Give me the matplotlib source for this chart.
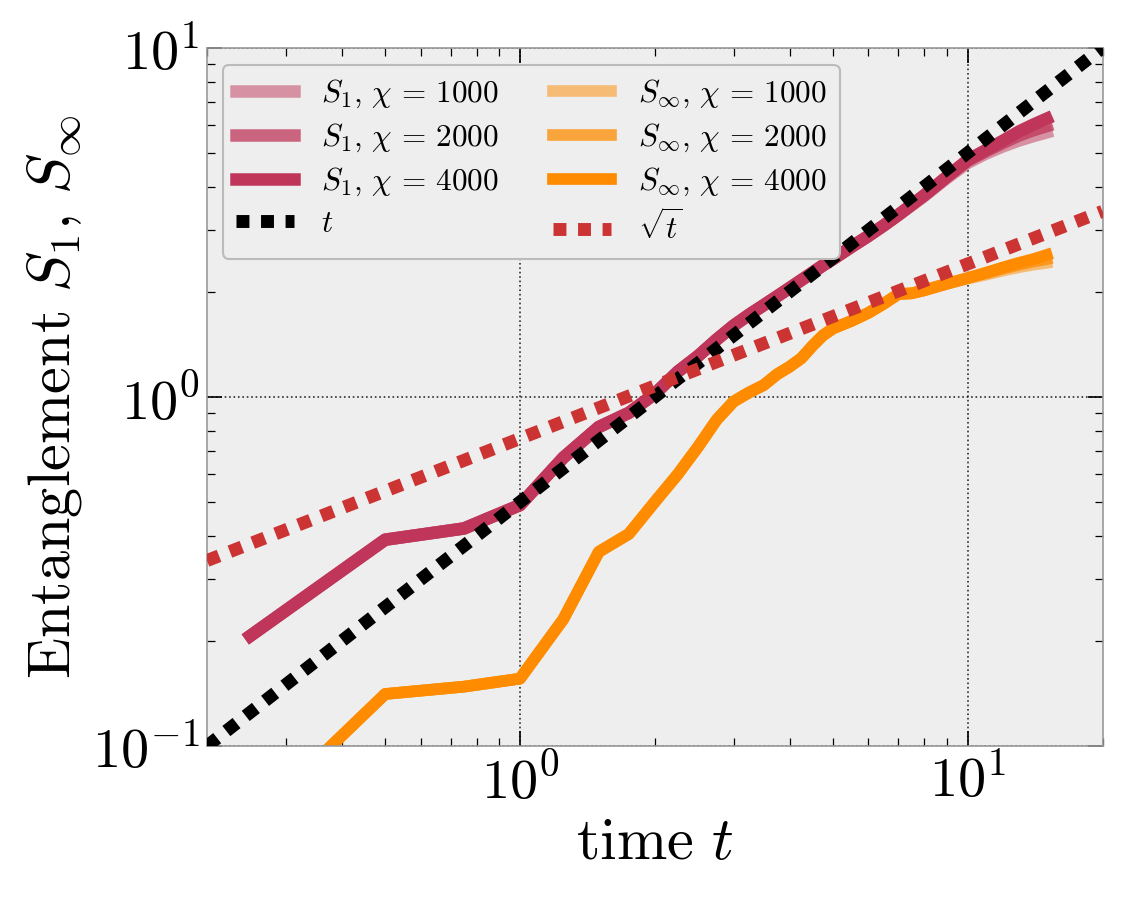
import numpy as np
import matplotlib
matplotlib.use("Agg")
import matplotlib.pyplot as plt
from matplotlib.ticker import FuncFormatter, NullFormatter, LogLocator

plt.rcParams['mathtext.fontset'] = 'cm'
plt.rcParams['font.family'] = 'serif'
plt.rcParams['font.serif'] = ['cmr10', 'DejaVu Serif']

# time grid and values
t = [0.25, 0.5, 0.75, 1.0, 1.25, 1.5, 1.75, 2.0, 2.25, 2.5, 2.75, 3.0, 3.25, 3.5,
     3.75, 4.0, 4.25, 4.5, 4.75, 5.0, 5.5, 6.0, 6.5, 7.0, 7.5, 8.0, 9.0, 10.0,
     11.0, 12.0, 13.0, 14.0, 15.0]

S1_4000 = [0.207, 0.39, 0.42, 0.49, 0.67, 0.82, 0.90, 1.02, 1.18, 1.31, 1.46, 1.60,
           1.72, 1.83, 1.94, 2.05, 2.16, 2.27, 2.38, 2.48, 2.69, 2.89, 3.10, 3.32,
           3.55, 3.78, 4.28, 4.77, 5.10, 5.42, 5.75, 6.02, 6.26]
S1_2000 = [0.207, 0.39, 0.42, 0.49, 0.67, 0.82, 0.90, 1.02, 1.18, 1.31, 1.46, 1.60,
           1.72, 1.83, 1.94, 2.05, 2.16, 2.27, 2.38, 2.48, 2.69, 2.89, 3.10, 3.32,
           3.55, 3.78, 4.27, 4.74, 5.06, 5.34, 5.60, 5.80, 5.96]
S1_1000 = [0.207, 0.39, 0.42, 0.49, 0.67, 0.82, 0.90, 1.02, 1.18, 1.31, 1.46, 1.60,
           1.72, 1.83, 1.94, 2.05, 2.16, 2.27, 2.38, 2.48, 2.69, 2.89, 3.10, 3.32,
           3.54, 3.76, 4.24, 4.68, 4.98, 5.22, 5.42, 5.58, 5.72]

Sinf_4000 = [0.06, 0.141, 0.148, 0.156, 0.231, 0.36, 0.405, 0.50, 0.60, 0.72, 0.86,
             0.97, 1.03, 1.08, 1.16, 1.22, 1.29, 1.40, 1.50, 1.57, 1.65, 1.74, 1.85,
             1.97, 1.98, 2.02, 2.11, 2.19, 2.27, 2.35, 2.42, 2.48, 2.55]
Sinf_2000 = [0.06, 0.141, 0.148, 0.156, 0.231, 0.36, 0.405, 0.50, 0.60, 0.72, 0.86,
             0.97, 1.03, 1.08, 1.16, 1.22, 1.29, 1.40, 1.50, 1.57, 1.65, 1.74, 1.85,
             1.97, 1.98, 2.02, 2.11, 2.19, 2.26, 2.33, 2.39, 2.44, 2.48]
Sinf_1000 = [0.06, 0.141, 0.148, 0.156, 0.231, 0.36, 0.405, 0.50, 0.60, 0.72, 0.86,
             0.97, 1.03, 1.08, 1.16, 1.22, 1.29, 1.40, 1.50, 1.57, 1.65, 1.74, 1.85,
             1.97, 1.98, 2.02, 2.11, 2.18, 2.24, 2.30, 2.35, 2.39, 2.42]

chis = [1000, 2000, 4000]
alphas = [0.5, 0.75, 1.0]

# reference lines
t_ref = np.array([0.2, 20.0])
lin_coef = 0.5
sqrt_coef = 0.76

c_s1 = '#c0365a'
c_sinf = '#ff8c00'
c_sqrt = '#cc3333'

fig = plt.figure(figsize=(7.5, 6), dpi=150)
ax = fig.add_axes([0.184, 0.171, 0.796, 0.776])
ax.set_facecolor('#eeeeee')

handles = []
for chi, a, ys in zip(chis, alphas, [S1_1000, S1_2000, S1_4000]):
    h, = ax.plot(t, ys, color=c_s1, alpha=a, lw=6.0,
                 label=r'$S_1,\,\chi\,=\,%d$' % chi)
    handles.append(h)
h_lin, = ax.plot(t_ref, lin_coef * t_ref, color='black', lw=6.2,
                 ls=(0, (1, 0.9)), label=r'$t$', zorder=4)
handles.append(h_lin)
for chi, a, ys in zip(chis, alphas, [Sinf_1000, Sinf_2000, Sinf_4000]):
    h, = ax.plot(t, ys, color=c_sinf, alpha=a, lw=5.6,
                 label=r'$S_\infty,\,\chi\,=\,%d$' % chi)
    handles.append(h)
tt = np.geomspace(0.2, 20, 50)
h_sq, = ax.plot(tt, sqrt_coef * np.sqrt(tt), color=c_sqrt, lw=6.2,
                ls=(0, (1, 0.9)), label=r'$\sqrt{t}$', zorder=4)
handles.append(h_sq)

ax.set_xscale('log')
ax.set_yscale('log')
ax.set_xlim(0.2, 20)
ax.set_ylim(0.1, 10)

fmt = FuncFormatter(lambda v, p: r'$10^{%d}$' % round(np.log10(v)))
for axis in (ax.xaxis, ax.yaxis):
    axis.set_major_locator(LogLocator(base=10))
    axis.set_major_formatter(fmt)
    axis.set_minor_locator(LogLocator(base=10, subs=np.arange(2, 10)))
    axis.set_minor_formatter(NullFormatter())

ax.tick_params(which='both', direction='in', top=True, right=True, labelsize=27)
ax.tick_params(which='major', length=7, width=0.8)
ax.tick_params(which='minor', length=4, width=0.6)
ax.grid(True, which='major', color='black', ls=':', lw=0.8, alpha=0.8)
for s in ax.spines.values():
    s.set_color('#999999')

ax.set_xlabel(r'$\mathrm{time}\ t$', fontsize=29, labelpad=4)
ax.set_ylabel(r'$\mathrm{Entanglement}\ S_1,\, S_\infty$', fontsize=29, labelpad=4)

leg = ax.legend(handles=handles, ncol=2, loc='upper left',
                bbox_to_anchor=(0.0179, 0.9756), borderaxespad=0, fontsize=15,
                handlelength=1.86, handletextpad=0.86, facecolor='#eeeeee',
                edgecolor='#bbbbbb', framealpha=1, columnspacing=1.75,
                labelspacing=0.38)

fig.savefig('out.png', dpi=150)
